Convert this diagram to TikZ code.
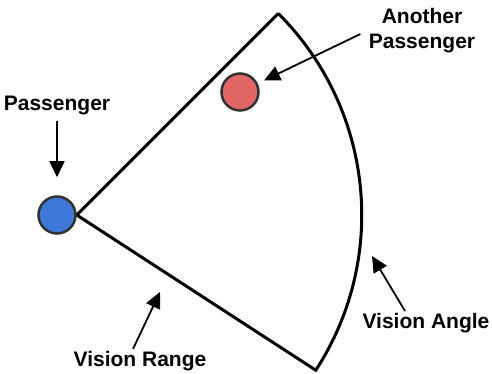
\documentclass[tikz,border=0pt]{standalone}
\usepackage{fontspec}
\setmainfont{Liberation Sans}
\usepackage{xcolor}
\usepackage{tikz}
\usetikzlibrary{arrows.meta, positioning, calc, backgrounds}

\definecolor{passblue}{HTML}{3C78D8}
\definecolor{passred}{HTML}{E06666}
\definecolor{rimgray}{HTML}{333333}

\begin{document}
\begin{tikzpicture}[
    x=1pt, y=1pt,
    font=\fontsize{21}{25}\selectfont\bfseries,
    %% component styles
    passenger/.style={
        circle, draw=rimgray, line width=2.5pt,
        minimum size=37pt, inner sep=0pt
    },
    sector/.style={line width=3pt, line join=miter},
    %% arrow styles
    pointer/.style={-{Triangle[length=16pt, width=15pt]}, line width=1.8pt},
    %% label styles
    lbl/.style={align=center, inner sep=2pt}
]
    \useasboundingbox (0,0) rectangle (492,374);

    %% --- nodes ------------------------------------------------
    \node[passenger, fill=passblue] (me)    at (57,159)  {};
    \node[passenger, fill=passred]  (other) at (240,282) {};

    \node[lbl] (lme)    at (57,268)  {Passenger};
    \node[lbl] (lother) at (422,343) {Another\\Passenger};
    \node[lbl] (lrange) at (140,13)  {Vision Range};
    \node[lbl] (langle) at (426,51)  {Vision Angle};

    %% --- vision sector ------------------------------------------
    \coordinate (apex) at (me.east);
    \coordinate (rimtop) at ($(apex)+(45:285)$);
    \coordinate (rimbot) at ($(apex)+(-33:285)$);
    \coordinate (rangetip) at (160,82);
    \coordinate (angletip) at (372,118);

    \begin{pgfonlayer}{background}
        \draw[sector] (rimtop) -- (apex) -- (rimbot)
            arc[start angle=-33, end angle=45, radius=285];
    \end{pgfonlayer}

    %% --- arrows -----------------------------------------------
    \draw[pointer, shorten <=3pt, shorten >=18pt] (lme.south) -- (me.north);
    \draw[pointer, shorten <=7pt, shorten >=7pt] (lother.west) -- (other);
    \draw[pointer] ([xshift=-7pt]lrange.north) -- (rangetip);
    \draw[pointer] ([xshift=-21pt]langle.north) -- (angletip);

\end{tikzpicture}
\end{document}
